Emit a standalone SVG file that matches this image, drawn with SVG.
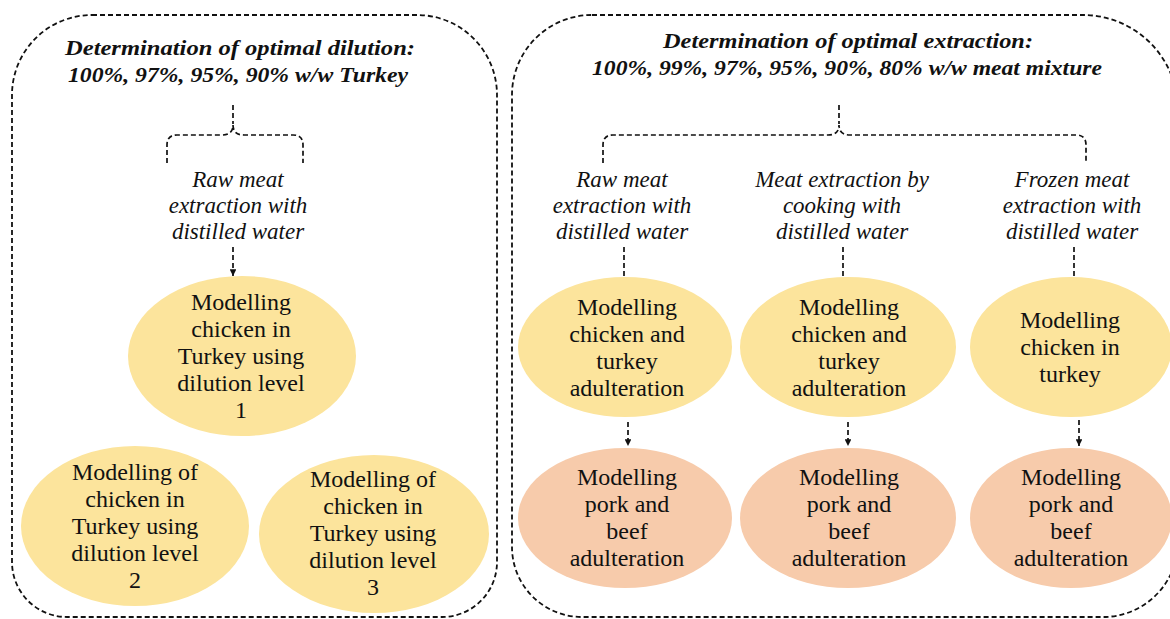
<svg xmlns="http://www.w3.org/2000/svg" width="1170" height="619" viewBox="0 0 1170 619">
<style>
.box{fill:none;stroke:#111;stroke-width:1.8;stroke-dasharray:5 3}
.con{fill:none;stroke:#111;stroke-width:1.7;stroke-dasharray:5 3}
.ttl{font-family:"Liberation Serif",serif;font-weight:bold;font-style:italic;font-size:22px;fill:#111;text-anchor:middle}
.lbl{font-family:"Liberation Serif",serif;font-style:italic;font-size:23px;fill:#111;text-anchor:middle}
.nt{font-family:"Liberation Serif",serif;font-size:24px;fill:#111;text-anchor:middle}
.y{fill:#FCE49C}
.p{fill:#F7CBAB}
</style>
<defs>
<marker id="ah" viewBox="0 0 10 10" refX="10" refY="5" markerWidth="4" markerHeight="4" orient="auto" markerUnits="strokeWidth">
<path d="M0,0 L10,5 L0,10 Z" fill="#111"/>
</marker>
</defs>
<g id="panel-left">
<path class="box" d="M92,15 H417 A80,80 0 0 1 497,95 V562 A55,55 0 0 1 442,617 H67 A55,55 0 0 1 12,562 V95 A80,80 0 0 1 92,15 Z"/>
<text class="ttl" x="240" y="55" textLength="350" lengthAdjust="spacingAndGlyphs">Determination of optimal dilution:</text>
<text class="ttl" x="238" y="82" textLength="340" lengthAdjust="spacingAndGlyphs">100%, 97%, 95%, 90% w/w Turkey</text>
</g>
<g id="panel-right">
<path class="box" d="M592,15 H1083 A95,95 0 0 1 1178,110 V542 A75,75 0 0 1 1103,617 H582 A70,70 0 0 1 512,547 V95 A80,80 0 0 1 592,15 Z"/>
<text class="ttl" x="848" y="48" textLength="370" lengthAdjust="spacingAndGlyphs">Determination of optimal extraction:</text>
<text class="ttl" x="847" y="75" textLength="510" lengthAdjust="spacingAndGlyphs">100%, 99%, 97%, 95%, 90%, 80% w/w meat mixture</text>
</g>
<g id="connectors">
<path class="con" d="M233,105 V124"/>
<path class="con" d="M167,163 V145 Q167,135 177,135 H222 Q233,135 233,125 Q233,135 244,135 H293 Q303,135 303,145 V163"/>
<path class="con" d="M233,247 V276" marker-end="url(#ah)"/>
<path class="con" d="M839,105 V124"/>
<path class="con" d="M603,163 V145 Q603,135 613,135 H828 Q839,135 839,125 Q839,135 850,135 H1076 Q1086,135 1086,145 V163"/>
<path class="con" d="M624,247 V277"/>
<path class="con" d="M843,247 V277"/>
<path class="con" d="M1074,247 V277"/>
<path class="con" d="M628,422 V446" marker-end="url(#ah)"/>
<path class="con" d="M848,422 V446" marker-end="url(#ah)"/>
<path class="con" d="M1079,420 V446" marker-end="url(#ah)"/>
</g>
<g id="label-raw-left">
<text class="lbl" x="238" y="187">Raw meat</text>
<text class="lbl" x="238" y="213">extraction with</text>
<text class="lbl" x="238" y="239">distilled water</text>
</g>
<g id="label-raw-right">
<text class="lbl" x="622" y="187">Raw meat</text>
<text class="lbl" x="622" y="213">extraction with</text>
<text class="lbl" x="622" y="239">distilled water</text>
</g>
<g id="label-cooking">
<text class="lbl" x="842" y="187">Meat extraction by</text>
<text class="lbl" x="842" y="213">cooking with</text>
<text class="lbl" x="842" y="239">distilled water</text>
</g>
<g id="label-frozen">
<text class="lbl" x="1072" y="187">Frozen meat</text>
<text class="lbl" x="1072" y="213">extraction with</text>
<text class="lbl" x="1072" y="239">distilled water</text>
</g>
<g id="node-dilution-1">
<ellipse class="y" cx="242" cy="356" rx="114" ry="80"/>
<text class="nt" x="241" y="310">Modelling</text>
<text class="nt" x="241" y="337">chicken in</text>
<text class="nt" x="241" y="364">Turkey using</text>
<text class="nt" x="241" y="391">dilution level</text>
<text class="nt" x="241" y="418">1</text>
</g>
<g id="node-dilution-2">
<ellipse class="y" cx="135" cy="526" rx="114" ry="80"/>
<text class="nt" x="135" y="480">Modelling of</text>
<text class="nt" x="135" y="507">chicken in</text>
<text class="nt" x="135" y="534">Turkey using</text>
<text class="nt" x="135" y="561">dilution level</text>
<text class="nt" x="135" y="588">2</text>
</g>
<g id="node-dilution-3">
<ellipse class="y" cx="374" cy="534" rx="115" ry="79"/>
<text class="nt" x="373" y="487">Modelling of</text>
<text class="nt" x="373" y="514">chicken in</text>
<text class="nt" x="373" y="541">Turkey using</text>
<text class="nt" x="373" y="568">dilution level</text>
<text class="nt" x="373" y="595">3</text>
</g>
<g id="node-raw-ct">
<ellipse class="y" cx="625" cy="347" rx="107" ry="70"/>
<text class="nt" x="627" y="315">Modelling</text>
<text class="nt" x="627" y="342">chicken and</text>
<text class="nt" x="627" y="369">turkey</text>
<text class="nt" x="627" y="396">adulteration</text>
</g>
<g id="node-cook-ct">
<ellipse class="y" cx="848" cy="347" rx="108" ry="70"/>
<text class="nt" x="849" y="315">Modelling</text>
<text class="nt" x="849" y="342">chicken and</text>
<text class="nt" x="849" y="369">turkey</text>
<text class="nt" x="849" y="396">adulteration</text>
</g>
<g id="node-frozen-ct">
<ellipse class="y" cx="1071" cy="347" rx="101" ry="70"/>
<text class="nt" x="1070" y="328">Modelling</text>
<text class="nt" x="1070" y="355">chicken in</text>
<text class="nt" x="1070" y="382">turkey</text>
</g>
<g id="node-raw-pb">
<ellipse class="p" cx="625" cy="518" rx="107" ry="70"/>
<text class="nt" x="627" y="485">Modelling</text>
<text class="nt" x="627" y="512">pork and</text>
<text class="nt" x="627" y="539">beef</text>
<text class="nt" x="627" y="566">adulteration</text>
</g>
<g id="node-cook-pb">
<ellipse class="p" cx="848" cy="518" rx="108" ry="70"/>
<text class="nt" x="849" y="485">Modelling</text>
<text class="nt" x="849" y="512">pork and</text>
<text class="nt" x="849" y="539">beef</text>
<text class="nt" x="849" y="566">adulteration</text>
</g>
<g id="node-frozen-pb">
<ellipse class="p" cx="1071" cy="518" rx="101" ry="70"/>
<text class="nt" x="1071" y="485">Modelling</text>
<text class="nt" x="1071" y="512">pork and</text>
<text class="nt" x="1071" y="539">beef</text>
<text class="nt" x="1071" y="566">adulteration</text>
</g>
</svg>
